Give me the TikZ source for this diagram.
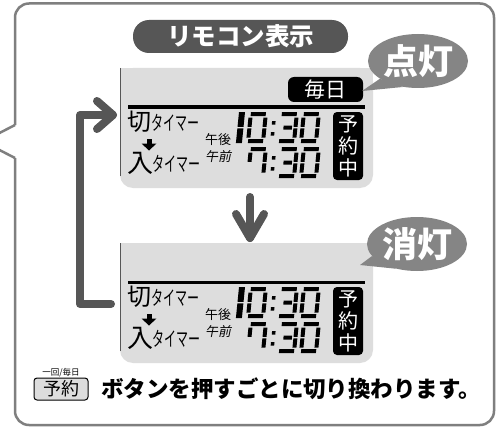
\documentclass[tikz,border=0pt]{standalone}
\usepackage{fontspec}
\usepackage{graphicx}
\newfontfamily\jp{Noto Sans CJK JP}
\newfontfamily\jpsl{Noto Sans CJK JP}[FakeSlant=0.2]
\usetikzlibrary{shapes.geometric}
\definecolor{framegray}{HTML}{7F7F7F}
\definecolor{darkg}{HTML}{565656}
\definecolor{bubg}{HTML}{858585}
\definecolor{lcd}{HTML}{DDDDDD}
\newcommand\jfs[1]{\jp\fontsize{#1}{#1}\selectfont}
\newcommand\sgA{\fill (2,0) rectangle (17,4);}
\newcommand\sgB{\fill (15,5.5) rectangle (19,14.75);}
\newcommand\sgC{\fill (15,16.25) rectangle (19,25.5);}
\newcommand\sgD{\fill (2,27) rectangle (17,31);}
\newcommand\sgE{\fill (0,16.25) rectangle (4,25.5);}
\newcommand\sgF{\fill (0,5.5) rectangle (4,14.75);}
\newcommand\sgG{\fill (5,13.5) rectangle (13.5,17.5);}
\newcommand\sgOne{\fill (0,0) rectangle (6,14.75); \fill (0,16.25) rectangle (6,31);}
\newcommand\sgColon{\fill (1,9) rectangle (4.5,12.5); \fill (1,20) rectangle (4.5,23.5);}
\newcommand\dgt[3]{\begin{scope}[shift={(#1,#2)},xslant=0.1]#3\end{scope}}
\newcommand\lcdpanel[2]{%
\begin{scope}[shift={(0,#1)}]
 \fill[lcd, rounded corners=13pt] (120,68) rectangle (373,188);
 \fill[lcd] (120,68) rectangle (373,100);
 \draw[darkg, line width=1pt] (120.5,68) -- (120.5,176);
 \draw[line width=3pt] (128,107) -- (365,107);
 \node (#2kiri) [txt, font=\jfs{24}] at (139,122) {切};
 \node (#2tma) [txt, font=\jfs{20}] at (175,123) {\scalebox{0.6}[1]{タイマー}};
 \node (#2iri) [txt, font=\jfs{26}] at (140,163) {入};
 \node (#2tmb) [txt, font=\jfs{20}] at (176,164) {\scalebox{0.6}[1]{タイマー}};
 \fill (146.5,139) rectangle (151.5,144);
 \fill (141.5,143.5) -- (156.5,143.5) -- (149,150.5) -- cycle;
 \node (#2pm) [txt, font=\jfs{13}] at (218,140) {午後};
 \node (#2am) [txt, font=\jpsl\fontsize{13}{13}\selectfont] at (218,157) {午前};
 \dgt{239}{112}{\sgOne}
 \dgt{249}{112}{\sgA\sgB\sgC\sgD\sgE\sgF}
 \dgt{272}{112}{\sgColon}
 \dgt{280}{112}{\sgA\sgB\sgC\sgD\sgG}
 \dgt{302}{112}{\sgA\sgB\sgC\sgD\sgE\sgF}
 \dgt{249}{147}{\sgA\sgB\sgC\sgF}
 \dgt{272}{147}{\sgColon}
 \dgt{280}{147}{\sgA\sgB\sgC\sgD\sgG}
 \dgt{302}{147}{\sgA\sgB\sgC\sgD\sgE\sgF}
 \node (#2yyk) [fill=black, text=white, rounded corners=4pt, minimum width=30pt,
   minimum height=68pt, inner sep=0pt, align=center,
   font=\jp\fontsize{20}{22}\selectfont] at (348,146) {予\\約\\中};
\end{scope}}
\tikzset{
 txt/.style={inner sep=0pt, outer sep=0pt},
 frameline/.style={framegray, line width=2.5pt},
 bigarrow/.style={darkg, line width=8pt, line cap=round, line join=round},
 bubble/.style={ellipse, fill=bubg, minimum width=100pt, minimum height=54pt,
   inner sep=0pt, text=white, font=\jp\bfseries\fontsize{35}{35}\selectfont}
}
\begin{document}
\begin{tikzpicture}[x=1pt,y=-1pt]
\useasboundingbox (0,0) rectangle (501,428);
\fill[white] (0,0) rectangle (501,428);
% frame with pointer
\draw[frameline, rounded corners=14pt] (15,158) -- (15,425) -- (494,425) -- (494,3.5) -- (15,3.5) -- (15,125);
\draw[frameline, line join=miter] (15,125) -- (-17,141.5) -- (15,158);
% title
\node (title) [fill=darkg, rounded corners=16pt, minimum width=215pt, minimum height=33pt,
  inner sep=0pt, text=white, font=\jp\bfseries\fontsize{24.5}{24.5}\selectfont] at (240.5,36.5) {リモコン表示};
% panels
\lcdpanel{0}{p}
\lcdpanel{175}{q}
% daily box
\node (maini) [fill=black, text=white, rounded corners=6pt, minimum width=75pt, minimum height=25pt,
  inner sep=0pt, font=\jfs{21}] at (325.5,89.5) {毎日};
% bubbles
\node (on) [bubble] at (418,61) {点灯};
\coordinate (ontip) at (362,91);
\fill[bubg] (on.205) -- (ontip) -- (on.240) -- cycle;
\node (off) [bubble] at (417,244) {消灯};
\coordinate (offtip) at (360,265);
\fill[bubg] (off.195) -- (offtip) -- (off.230) -- cycle;
% down arrow
\coordinate (dtop) at (250,197);
\coordinate (dtip) at (250,238);
\coordinate (dwl) at (236,214);
\coordinate (dwr) at (264,214);
\draw[bigarrow] (dtop) -- (dtip);
\draw[bigarrow] (dwl) -- (dtip) -- (dwr);
% loop arrow
\coordinate (lb) at (111,304);
\coordinate (lbl) at (80,304);
\coordinate (ltl) at (80,115);
\coordinate (ltip) at (113,115);
\coordinate (lwu) at (97,101);
\coordinate (lwd) at (97,129);
\draw[bigarrow] (lb) -- (lbl) -- (ltl) -- (ltip);
\draw[bigarrow] (lwu) -- (ltip) -- (lwd);
% bottom row
\node (btnlabel) [txt, font=\jfs{8.5}] at (61,373) {一回/毎日};
\node (btn) [draw=black, fill=lcd, line width=1pt, rounded corners=3pt, minimum width=54pt,
  minimum height=22pt, inner sep=0pt, font=\jfs{18}] at (61,389) {予約};
\node (msg) [txt, anchor=west, font=\jp\bfseries\fontsize{22.5}{22.5}\selectfont] at (101,389)
  {ボタンを押すごとに切り換わります。};
\end{tikzpicture}
\end{document}
